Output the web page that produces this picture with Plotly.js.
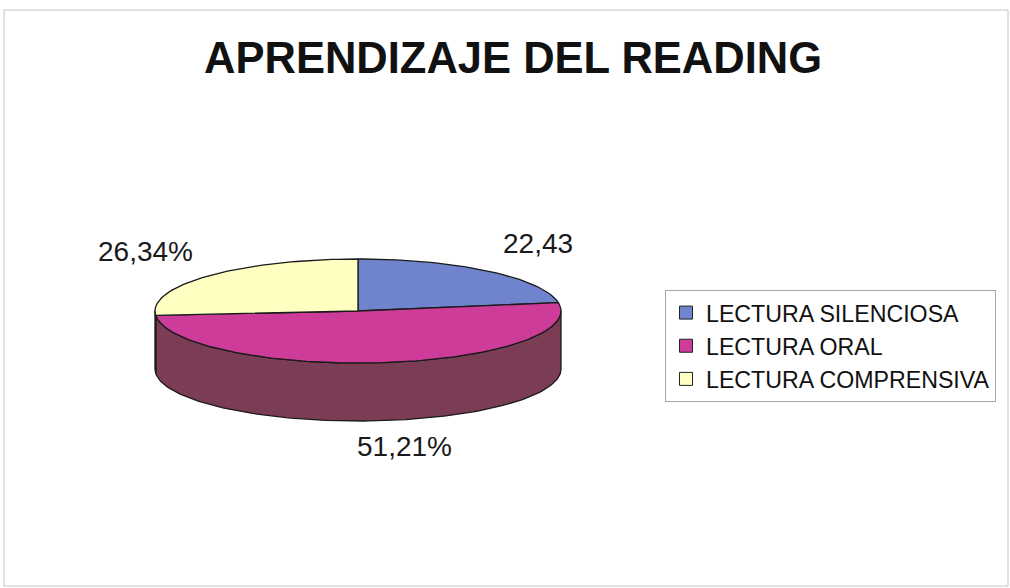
<!DOCTYPE html>
<html>
<head>
<meta charset="utf-8">
<script src="https://cdn.plot.ly/plotly-3.0.1.min.js"></script>
<style>html,body{margin:0;padding:0;background:#fff;}#chart{width:1010px;height:588px;}</style>
</head>
<body>
<div id="chart"></div>
<script>
// ---- data ----
const categories = ['LECTURA SILENCIOSA', 'LECTURA ORAL', 'LECTURA COMPRENSIVA'];
const values = [22.43, 51.21, 26.34];
const labelTexts = ['22,43', '51,21%', '26,34%'];

// ---- style ----
const topColors = ['#6f84cc', '#cc3c98', '#ffffc2'];
const sideColors = ['#44507f', '#7b3d55', '#a3a274'];
const W = 1010, H = 588;
const cx = 358, cy = 311, rx = 203, ry = 52, depth = 58;
const FONT = 'Liberation Sans, Arial, sans-serif';

function pt(deg, dy) {
  const r = deg * Math.PI / 180;
  return [cx + rx * Math.cos(r), cy - ry * Math.sin(r) + (dy || 0)];
}
function arc(a, b, dy) {
  const n = Math.max(2, Math.ceil(Math.abs(b - a) / 1.5));
  const xs = [], ys = [];
  for (let k = 0; k <= n; k++) {
    const p = pt(a + (b - a) * k / n, dy);
    xs.push(p[0]); ys.push(p[1]);
  }
  return [xs, ys];
}

const total = values.reduce((s, v) => s + v, 0);
const slices = [];
let start = 90;
values.forEach((v, i) => {
  const t1 = start, t2 = start - v / total * 360;
  slices.push({t1, t2});
  start = t2;
});

const traces = [];
// side walls (front half only)
slices.forEach((s, i) => {
  for (const [lo, hi] of [[-540, -360], [-180, 0], [180, 360]]) {
    const a = Math.max(s.t2, lo), b = Math.min(s.t1, hi);
    if (b > a) {
      const top = arc(a, b, 0), bot = arc(b, a, depth);
      traces.push({
        type: 'scatter', mode: 'lines', fill: 'toself',
        x: top[0].concat(bot[0]).concat([top[0][0]]),
        y: top[1].concat(bot[1]).concat([top[1][0]]),
        fillcolor: sideColors[i], line: {color: '#1a1a1a', width: 1.3},
        hoverinfo: 'skip', showlegend: false
      });
    }
  }
});
// top faces
slices.forEach((s, i) => {
  const a = arc(s.t1, s.t2, 0);
  traces.push({
    type: 'scatter', mode: 'lines', fill: 'toself',
    x: [cx].concat(a[0]).concat([cx]),
    y: [cy].concat(a[1]).concat([cy]),
    fillcolor: topColors[i], line: {color: '#1a1a1a', width: 1.3},
    name: categories[i], hoverinfo: 'name', showlegend: false
  });
});
// legend entries
categories.forEach((c, i) => {
  traces.push({
    type: 'scatter', mode: 'markers', x: [null], y: [null],
    name: c, legendgroup: 'g' + i,
    marker: {symbol: 'square', size: 13, color: topColors[i], line: {color: '#222', width: 1}},
    showlegend: true
  });
});

// data labels
const annotations = slices.map((s, i) => {
  const m = (s.t1 + s.t2) / 2;
  const r = m * Math.PI / 180;
  const c = Math.cos(r), sn = Math.sin(r);
  const kx = Math.abs(c) < 0.3 ? 1.85 : 1.09;
  const ky = sn < 0 ? 1.5 : 1.7;
  const x = cx + rx * kx * c;
  const y = cy - ry * ky * sn + (sn < 0 ? depth : 0);
  return {
    x: x, y: y, xref: 'x', yref: 'y', text: labelTexts[i], showarrow: false,
    xanchor: c > 0.3 ? 'left' : (c < -0.3 ? 'right' : 'center'), yanchor: 'middle',
    font: {family: FONT, size: 28, color: '#1a1a1a'}
  };
});

const layout = {
  width: W, height: H,
  margin: {l: 0, r: 0, t: 0, b: 0},
  paper_bgcolor: '#ffffff', plot_bgcolor: '#ffffff',
  xaxis: {range: [0, W], visible: false, fixedrange: true},
  yaxis: {range: [H, 0], visible: false, fixedrange: true},
  title: {
    text: 'APRENDIZAJE DEL READING', x: 0.508, xanchor: 'center',
    xref: 'container', yref: 'container', y: 1 - 58 / H, yanchor: 'middle',
    font: {family: FONT, size: 43.5, weight: 'bold', color: '#111'}
  },
  showlegend: true,
  legend: {
    x: 665 / W, y: 1 - 290 / H, xanchor: 'left', yanchor: 'top',
    bordercolor: '#a8a8a8', borderwidth: 1, bgcolor: '#ffffff',
    font: {family: FONT, size: 23.2, color: '#111'},
    itemwidth: 30, tracegroupgap: 2, traceorder: 'normal'
  },
  annotations: annotations,
  shapes: [{
    type: 'rect', xref: 'x', yref: 'y', x0: 4, y0: 10, x1: 1008, y1: 586,
    line: {color: '#c4c4c4', width: 1}, layer: 'below'
  }]
};

Plotly.newPlot('chart', traces, layout, {displayModeBar: false, staticPlot: true});
</script>
</body>
</html>
